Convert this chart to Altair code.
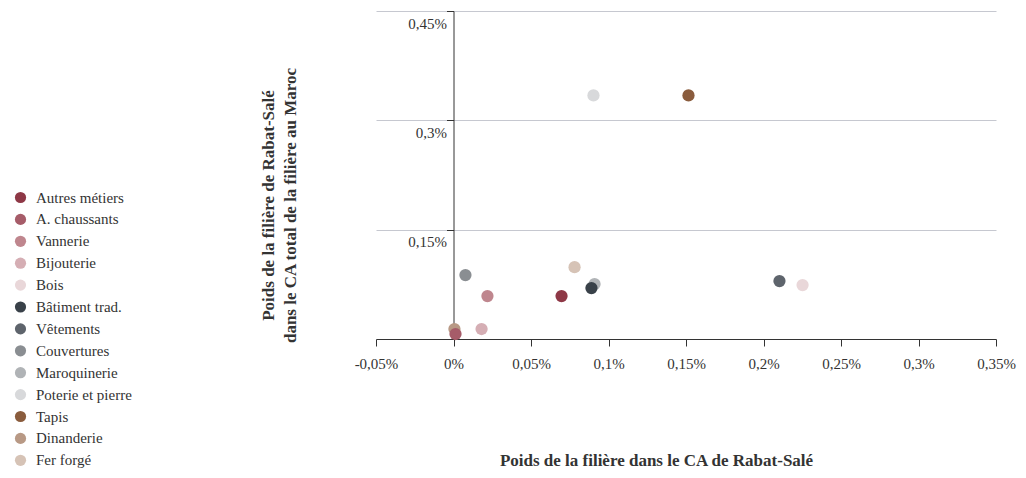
import altair as alt
import pandas as pd

categories = ["Autres métiers", "A. chaussants", "Vannerie", "Bijouterie", "Bois",
              "Bâtiment trad.", "Vêtements", "Couvertures", "Maroquinerie",
              "Poterie et pierre", "Tapis", "Dinanderie", "Fer forgé"]
colors = ["#8e3846", "#a65c69", "#bf868e", "#d5aeb4", "#e9d7d9",
          "#394149", "#5e646c", "#8a8e92", "#b0b3b6", "#d8d9db",
          "#8a5c3d", "#b89985", "#d6c3b6"]
# x: weight in Rabat-Salé turnover (%), y: weight of Rabat-Salé in national sector (%)
x_vals = [0.0697, 0.0013, 0.0219, 0.0181, 0.2252,
          0.0890, 0.2103, 0.0077, 0.0910, 0.0903, 0.1516, 0.0006, 0.0781]
y_vals = [0.0589, 0.0068, 0.0589, 0.0137, 0.0740,
          0.0699, 0.0795, 0.0877, 0.0753, 0.3342, 0.3342, 0.0137, 0.0986]

x_ticks = [-0.05, 0, 0.05, 0.1, 0.15, 0.2, 0.25, 0.3, 0.35]
y_ticks = [0.15, 0.3, 0.45]

df = pd.DataFrame({"cat": categories, "x": x_vals, "y": y_vals})
df = df.iloc[::-1].reset_index(drop=True)

FONT = "Liberation Serif"
fmt = "replace(replace(format(datum.value, '~g'), '.', ','), '\u2212', '-') + '%'"

chart = alt.Chart(df).mark_circle(size=150, opacity=1).encode(
    x=alt.X("x:Q", scale=alt.Scale(domain=[-0.05, 0.35], nice=False, zero=False),
            axis=alt.Axis(values=x_ticks, labelExpr=fmt, grid=False,
                          title="Poids de la filière dans le CA de Rabat-Salé",
                          titleX=280, titleY=121, titleBaseline="middle",
                          titleFontSize=17, titleFontWeight="bold", titleColor="#333",
                          titleFont=FONT, labelFont=FONT, labelFontSize=15,
                          labelColor="#333", labelPadding=10, tickSize=7,
                          tickColor="#333", domainColor="#333", labelFlush=False)),
    y=alt.Y("y:Q", scale=alt.Scale(domain=[0, 0.45], nice=False),
            axis=alt.Axis(values=y_ticks, labelExpr=fmt, offset=-77.5,
                          title=["Poids de la filière de Rabat-Salé",
                                 "dans le CA total de la filière au Maroc"],
                          titleX=-185, titleY=194, titleAngle=270,
                          titleAlign="center", titleBaseline="middle",
                          titleLineHeight=22,
                          titleFontSize=17, titleFontWeight="bold", titleColor="#333",
                          titleFont=FONT, labelFont=FONT, labelFontSize=15,
                          labelColor="#333", labelBaseline="top", labelOffset=5,
                          labelPadding=0, tickSize=7, tickColor="#333",
                          domainColor="#333", gridColor="#c6c8d0", labelFlush=False)),
    color=alt.Color("cat:N", scale=alt.Scale(domain=categories, range=colors),
                    sort=categories,
                    legend=alt.Legend(title=None, orient="none", legendX=-363,
                                      legendY=179, symbolType="circle",
                                      symbolSize=125, symbolOpacity=1,
                                      labelFont=FONT, labelFontSize=15,
                                      labelColor="#333", rowPadding=5.9,
                                      labelOffset=8, padding=0)),
).properties(
    width=620, height=328,
    autosize=alt.AutoSizeParams(type="none"),
    padding={"left": 368, "top": 3, "right": 22, "bottom": 131},
).configure_view(stroke=None)

chart.save("out.html", embed_options={"renderer": "svg", "actions": False})
